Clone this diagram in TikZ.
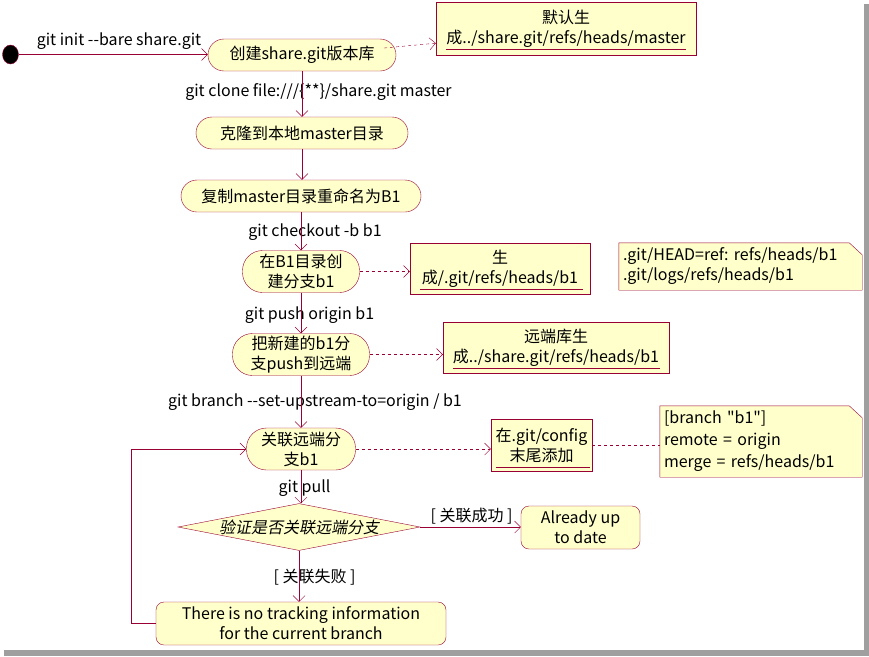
\documentclass[tikz,border=0pt]{standalone}
\usepackage{fontspec}
\setmainfont{Noto Sans CJK SC}
\newfontfamily\cjkit{Noto Sans CJK SC}[FakeSlant=0.2]
\newfontfamily\nomap{Noto Sans CJK SC}[Ligatures=ResetAll]
\usetikzlibrary{arrows.meta,shapes.geometric,calc,backgrounds}
\definecolor{lc}{RGB}{153,0,51}
\definecolor{fc}{RGB}{255,255,204}
\newcommand\myfs{\fontsize{16}{20}\selectfont}
\newcommand\dq{{\nomap\symbol{34}}}
\frenchspacing
\tikzset{
  act/.style={draw=lc, fill=fc, rounded corners=16pt, minimum height=32pt, inner sep=2pt, align=center, font=\myfs},
  acttwo/.style={act, rounded corners=20pt, minimum height=42pt},
  endbox/.style={draw=lc, fill=fc, rounded corners=8pt, inner sep=2pt, align=center, font=\myfs},
  notebox/.style={draw=lc, fill=fc, inner sep=2pt, align=center, font=\myfs},
  foldnote/.style={inner xsep=4pt, inner ysep=2pt, align=left, font=\myfs},
  flow/.style={draw=lc, -{Straight Barb[length=6pt,width=12pt]}},
  dep/.style={draw=lc, dash pattern=on 3pt off 3pt, -{Straight Barb[length=6pt,width=12pt]}},
  depline/.style={draw=lc, dash pattern=on 3pt off 3pt},
  lbl/.style={font=\myfs, inner sep=0pt}
}
\begin{document}
\frenchspacing
\begin{tikzpicture}[x=1pt,y=-1pt]
\useasboundingbox (0,0) rectangle (869,656);

% start
\node[ellipse, draw=lc, fill=black, minimum width=16pt, minimum height=19pt, inner sep=0pt] (S) at (10.5,54.5) {};

% activities
\node[act, minimum width=188pt] (A) at (302,55) {创建share.git版本库};
\node[act, minimum width=212pt] (B) at (302,133) {克隆到本地master目录};
\node[act, minimum width=240pt] (C) at (301,196) {复制master目录重命名为B1};
\node[acttwo, minimum width=117pt] (D) at (301,271.5) {在B1目录创\\建分支b1};
\node[acttwo, minimum width=137pt] (E) at (301,354.5) {把新建的b1分\\支push到远端};
\node[acttwo, minimum width=109pt] (F) at (301,449) {关联远端分\\支b1};
\node[diamond, draw=lc, fill=fc, minimum width=242pt, minimum height=46pt, inner sep=0pt, aspect=5, font=\myfs] (G) at (299,527) {\cjkit 验证是否关联远端分支};
\node[endbox, minimum width=119pt, minimum height=43pt] (H) at (580.5,527.5) {Already up\\to date};
\node[endbox, minimum width=290pt, minimum height=43pt] (I) at (301,623.5) {There is no tracking information\\for the current branch};

% notes
\node[notebox, minimum width=260pt, minimum height=53pt] (N1) at (566,28.5) {默认生\\成../share.git/refs/heads/master};
\node[notebox, minimum width=180pt, minimum height=51pt] (N2) at (500,268.5) {生\\成/.git/refs/heads/b1};
\node[notebox, minimum width=226pt, minimum height=51pt] (N4) at (556,347.5) {远端库生\\成../share.git/refs/heads/b1};
\node[notebox, minimum width=101pt, minimum height=52pt] (N5) at (541.5,445) {在.git/config\\末尾添加};
\node[foldnote, text width=235pt, minimum height=47pt] (N3) at (740.5,266.5) {.git/HEAD=ref: refs/heads/b1\\.git/logs/refs/heads/b1};
\node[foldnote, text width=194pt, minimum height=71pt, font=\fontsize{16}{22}\selectfont] (N6) at (761,441.5) {[branch \dq b1\dq]\\remote = origin\\merge = refs/heads/b1};
\begin{scope}[on background layer]
  \fill[white] (0,0) rectangle (869,656);
  \fill[gray!75] (864,4) rectangle (869,656);
  \fill[gray!75] (4,650) rectangle (869,656);
  \foreach \n in {N3,N6}{
    \filldraw[draw=lc, fill=fc] (\n.north west) -- ($(\n.north east)+(-13,0)$) -- ($(\n.north east)+(0,12)$) -- (\n.south east) -- (\n.south west) -- cycle;
  }
\end{scope}

% underlines in notes
\draw[lc] ($(N1.south west)+(10,-6)$) -- ($(N1.south east)+(-10,-6)$);
\draw[lc] ($(N2.south west)+(10,-5)$) -- ($(N2.south east)+(-7,-5)$);
\draw[lc] ($(N4.south west)+(10,-5)$) -- ($(N4.south east)+(-9,-5)$);
\draw[lc] ($(N5.south west)+(5,-4)$) -- ($(N5.south east)+(-2,-4)$);

% edge labels
\node[lbl] (L1) at (119,41) {git init -{}-bare share.git};
\node[lbl] (L2) at (318.5,92) {git clone file:///\{**\}/share.git master};
\node[lbl] (L3) at (315,232) {git checkout -b b1};
\node[lbl] (L4) at (309.5,315) {git push origin b1};
\node[lbl] (L5) at (315,402) {git branch -{}-set-upstream-to=origin / b1};
\node[lbl] (L6) at (304.5,488) {git pull};
\node[lbl] (L7) at (471.5,516) {[ 关联成功 ]};
\node[lbl] (L8) at (314.5,577) {[ 关联失败 ]};

% flow connectors
\draw[flow] (S) -- (S -| A.west);
\draw[flow] (A.south) -- (A.south |- B.north);
\draw[flow] (B.south) -- (B.south |- C.north);
\draw[flow] (C.south) -- (D.north);
\draw[flow] (D.south) -- (E.north);
\draw[flow] (E.south) -- (F.north);
\draw[flow] (F.south) -- (F.south |- G.north);
\draw[flow] (G.east) -- (G.east -| H.west);
\draw[flow] (G.south) -- (G.south |- I.north);
\draw[flow] (I.west) -- ++(-25,0) |- (F.west);

% dependency connectors
\draw[dep] ($(A.east)+(-12,-7)$) -- ($(N1.south west)+(0,-12)$);
\draw[dep] (D.east) -- (D.east -| N2.west);
\draw[depline] ($(N2.east)+(0,2)$) -- ($(N2.east)+(0,2)$ -| N3.west);
\draw[dep] (E.east) -- (E.east -| N4.west);
\draw[dep] (F.east) -- (F.east -| N5.west);
\draw[depline] (N5.east) -- (N5.east -| N6.west);
\end{tikzpicture}
\end{document}
